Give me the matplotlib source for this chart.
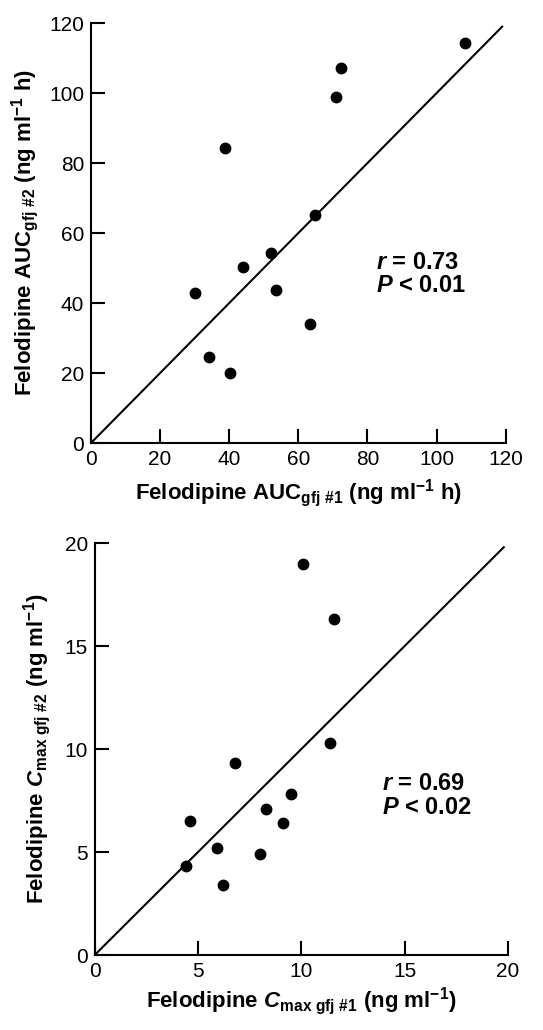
import numpy as np
import matplotlib
matplotlib.use('Agg')
import matplotlib.pyplot as plt

plt.rcParams['font.family'] = ['Liberation Sans', 'DejaVu Sans']
plt.rcParams['mathtext.fontset'] = 'custom'
plt.rcParams['mathtext.rm'] = 'Liberation Sans:bold'
plt.rcParams['mathtext.bf'] = 'Liberation Sans:bold'
plt.rcParams['mathtext.it'] = 'Liberation Sans:italic:bold'

# AUC, ng ml-1 h
auc1 = [108.2, 72.5, 70.8, 38.9, 64.7, 52.2, 44.1, 53.6, 30.2, 63.3, 34.2, 40.1]
auc2 = [114.3, 107.3, 98.9, 84.4, 65.1, 54.4, 50.4, 43.7, 43.0, 33.9, 24.5, 20.0]
auc_ticks = [0, 20, 40, 60, 80, 100, 120]

# Cmax, ng ml-1
cmax1 = [10.1, 11.6, 11.4, 6.8, 9.5, 8.3, 4.6, 9.1, 5.9, 8.0, 4.4, 6.2]
cmax2 = [19.0, 16.3, 10.3, 9.3, 7.8, 7.1, 6.5, 6.4, 5.2, 4.9, 4.3, 3.4]
cmax_ticks = [0, 5, 10, 15, 20]


def style_axes(ax, ticks):
    for s in ['top', 'right']:
        ax.spines[s].set_visible(False)
    for s in ['left', 'bottom']:
        ax.spines[s].set_linewidth(1.5)
    ax.set_xticks(ticks)
    ax.set_yticks(ticks)
    ax.set_xlim(ticks[0], ticks[-1] + 0.001 * ticks[-1])
    ax.set_ylim(ticks[0], ticks[-1] + 0.001 * ticks[-1])
    ax.tick_params(direction='in', length=10, width=1.5, labelsize=15, pad=5)


fig = plt.figure(figsize=(5.43, 10.30), dpi=100)

# top panel
ax1 = fig.add_axes([0.1676, 0.5699, 0.7643, 0.408])
ax1.plot([0, 119], [0, 119], color='black', linewidth=1.5)
ax1.plot(auc1, auc2, 'o', color='black', markersize=7.5, clip_on=False)
style_axes(ax1, auc_ticks)
ax1.set_xlabel(r'Felodipine AUC$_\mathregular{gfj\ \#1}$ (ng ml$^\mathregular{-1}$ h)',
               fontsize=16, fontweight='bold', labelpad=6)
ax1.set_ylabel(r'Felodipine AUC$_\mathregular{gfj\ \#2}$ (ng ml$^\mathregular{-1}$ h)',
               fontsize=16, fontweight='bold', labelpad=6)
ax1.text(82.5, 55, '$\\mathit{r}$ = 0.73\n$\\mathit{P}$ < 0.01', fontsize=17,
         fontweight='bold', va='top', ha='left', linespacing=1.05)

# bottom panel
ax2 = fig.add_axes([0.1744, 0.0728, 0.7617, 0.4003])
ax2.plot([0, 19.8], [0, 19.8], color='black', linewidth=1.5)
ax2.plot(cmax1, cmax2, 'o', color='black', markersize=7.5, clip_on=False)
style_axes(ax2, cmax_ticks)
ax2.set_xlabel(r'Felodipine $\mathit{C}_\mathregular{max\ gfj\ \#1}$ (ng ml$^\mathregular{-1}$)',
               fontsize=16, fontweight='bold', labelpad=3)
ax2.set_ylabel(r'Felodipine $\mathit{C}_\mathregular{max\ gfj\ \#2}$ (ng ml$^\mathregular{-1}$)',
               fontsize=16, fontweight='bold', labelpad=8)
ax2.text(13.9, 8.9, '$\\mathit{r}$ = 0.69\n$\\mathit{P}$ < 0.02', fontsize=17,
         fontweight='bold', va='top', ha='left', linespacing=1.05)

fig.savefig('out.png', dpi=100)
